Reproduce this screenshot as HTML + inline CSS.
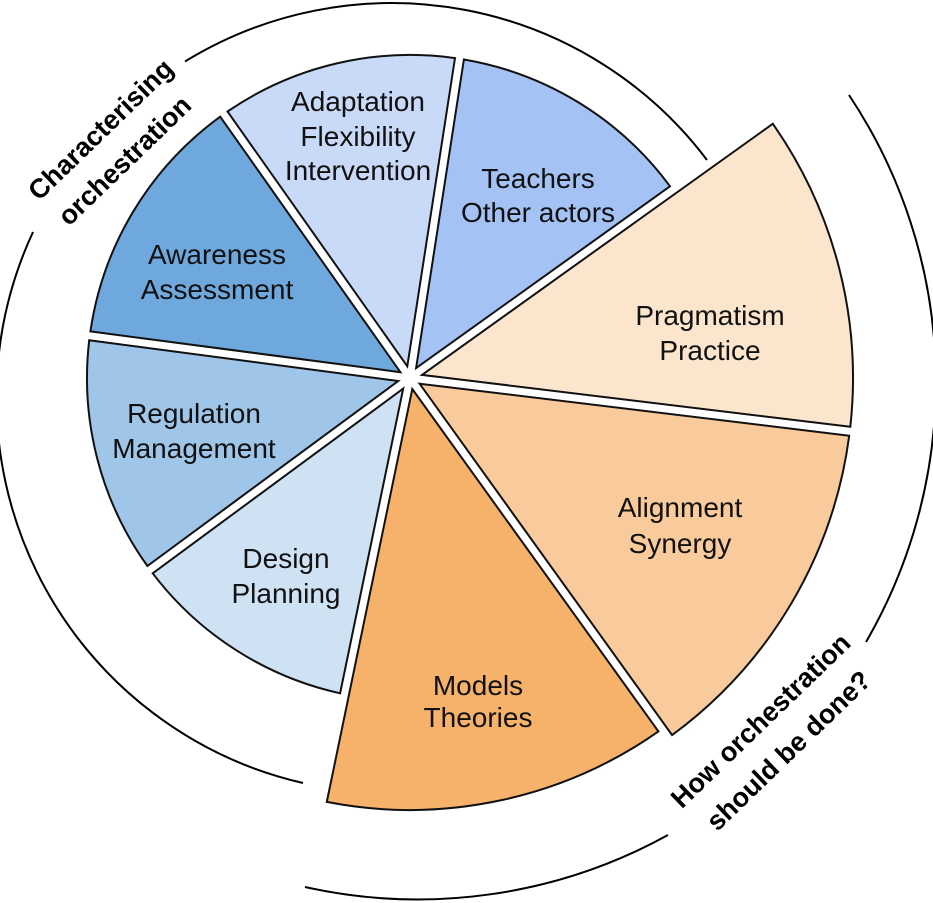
<!DOCTYPE html>
<html><head><meta charset="utf-8"><style>
html,body{margin:0;padding:0;background:#fff;}
svg{display:block;font-family:"Liberation Sans",sans-serif;}
</style></head><body>
<svg id="s" width="933" height="903" viewBox="0 0 933 903" xmlns="http://www.w3.org/2000/svg">
<g id="w"></g>
<path d="M 185 61.5 A 395 395 0 0 1 707 160" fill="none" stroke="#000" stroke-width="2"/>
<path d="M 33 232 A 395 395 0 0 0 303 783" fill="none" stroke="#000" stroke-width="2"/>
<path d="M 849 95 A 518 518 0 0 1 866 642" fill="none" stroke="#000" stroke-width="2"/>
<path d="M 668 835 A 518 518 0 0 1 305 887" fill="none" stroke="#000" stroke-width="2"/>
<g font-size="27" font-weight="bold">
<text transform="translate(102,131) rotate(-44)" text-anchor="middle" dominant-baseline="middle">Characterising</text>
<text transform="translate(126,162) rotate(-44)" text-anchor="middle" dominant-baseline="middle">orchestration</text>
<text transform="translate(762,722) rotate(-44)" text-anchor="middle" dominant-baseline="middle">How orchestration</text>
<text transform="translate(790,752) rotate(-44)" text-anchor="middle" dominant-baseline="middle">should be done?</text>
</g>
<g font-size="28" text-anchor="middle" fill="#111">
<text x="358" y="111">Adaptation</text><text x="358" y="146">Flexibility</text><text x="358" y="180">Intervention</text>
<text x="538" y="188">Teachers</text><text x="538" y="222">Other actors</text>
<text x="217" y="264">Awareness</text><text x="217" y="299">Assessment</text>
<text x="710" y="325">Pragmatism</text><text x="710" y="360">Practice</text>
<text x="194" y="423">Regulation</text><text x="194" y="458">Management</text>
<text x="286" y="568">Design</text><text x="286" y="603">Planning</text>
<text x="680" y="517">Alignment</text><text x="680" y="553">Synergy</text>
<text x="478" y="695">Models</text><text x="478" y="727">Theories</text>
</g>
</svg>
<script>
var C=[410,378],g=4.5;
var W=[[143.6,187.5,323,"#9fc5e8"],[101.7,143.6,323,"#cfe2f3"],[187.5,234.8,323,"#6fa8dc"],[234.8,278.8,323,"#c9daf8"],[278.8,324.4,323,"#a4c2f4"],[324.4,366.9,443,"#fce5cd"],[366.9,414.3,443,"#f9cb9c"],[414.3,461.7,432,"#f6b26b"]];
var h="";
function rad(a){return a*Math.PI/180;}
W.forEach(function(w){
 var a1=rad(w[0]),a2=rad(w[1]),R=w[2],m=(a1+a2)/2,half=(a2-a1)/2;
 var d=g/Math.sin(half);
 var tx=C[0]+d*Math.cos(m),ty=C[1]+d*Math.sin(m);
 var da=Math.asin(g/R);
 var p1=[C[0]+R*Math.cos(a1+da),C[1]+R*Math.sin(a1+da)];
 var p2=[C[0]+R*Math.cos(a2-da),C[1]+R*Math.sin(a2-da)];
 h+='<path d="M'+tx.toFixed(1)+' '+ty.toFixed(1)+' L'+p1[0].toFixed(1)+' '+p1[1].toFixed(1)+' A'+R+' '+R+' 0 0 1 '+p2[0].toFixed(1)+' '+p2[1].toFixed(1)+' Z" fill="'+w[3]+'" stroke="#111" stroke-width="2" stroke-linejoin="miter"/>';
});
document.getElementById("w").innerHTML=h;
</script>
</body></html>
